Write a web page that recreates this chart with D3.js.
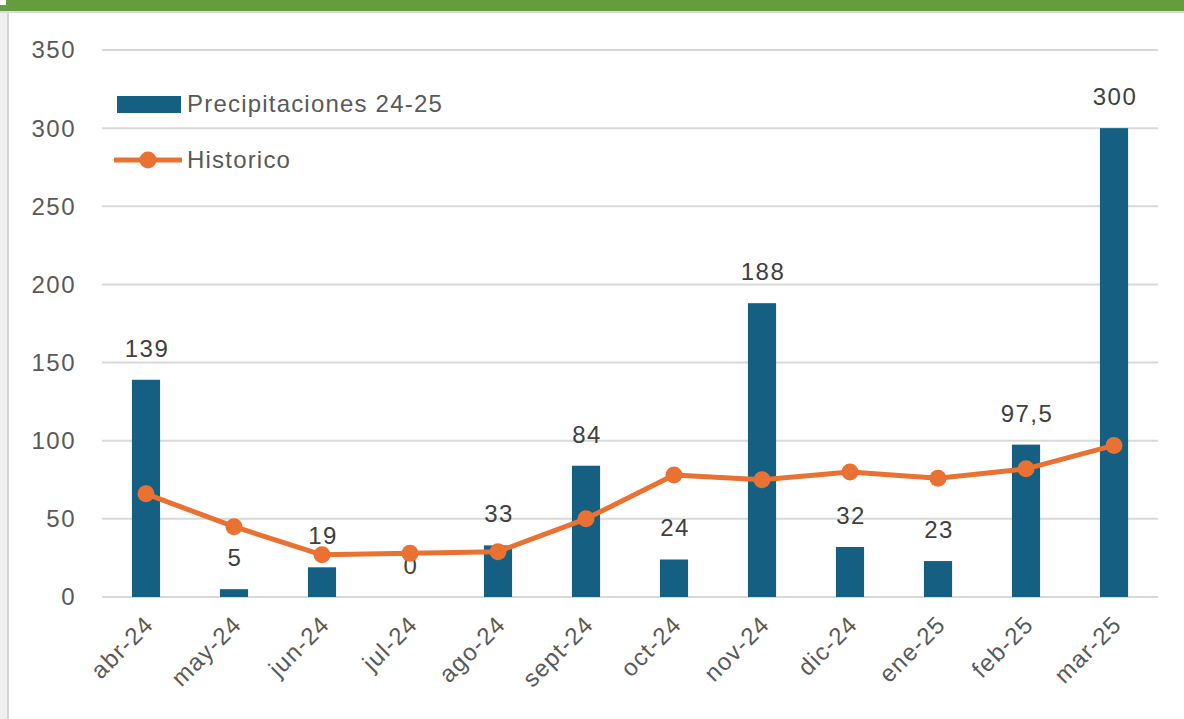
<!DOCTYPE html>
<html>
<head>
<meta charset="utf-8">
<script src="https://d3js.org/d3.v7.min.js"></script>
<style>
  body { margin: 0; background: #fff; }
  svg { display: block; font-family: "Liberation Sans", Arial, sans-serif; }
</style>
</head>
<body>
<div id="chart"></div>
<script>
// chart data
var months = ["abr-24", "may-24", "jun-24", "jul-24", "ago-24", "sept-24", "oct-24", "nov-24", "dic-24", "ene-25", "feb-25", "mar-25"]
var precip = [139, 5, 19, 0, 33, 84, 24, 188, 32, 23, 97.5, 300]
var historico = [66, 45, 27, 28, 29, 50, 78, 75, 80, 76, 82, 97]
var yTicks = [0, 50, 100, 150, 200, 250, 300, 350]

var width = 1184, height = 719
var margin = {left: 102, right: 26, top: 50, bottom: 122}

var svg = d3.select("#chart").append("svg")
  .attr("width", width)
  .attr("height", height)

// frame
svg.append("rect").attr("x", 0).attr("y", 0).attr("width", width).attr("height", height).attr("fill", "#fff")
svg.append("rect").attr("x", 0).attr("y", 0).attr("width", 8).attr("height", height).attr("fill", "#efefef")
svg.append("rect").attr("x", 7).attr("y", 11).attr("width", 2).attr("height", height).attr("fill", "#d4d4d4")
svg.append("rect").attr("x", 0).attr("y", 11).attr("width", width).attr("height", 2).attr("fill", "#dcdcdc")
svg.append("rect").attr("x", 0).attr("y", 0).attr("width", width).attr("height", 11).attr("fill", "#659c3e")
svg.append("rect").attr("x", 0).attr("y", 0).attr("width", 6).attr("height", 5).attr("fill", "#fff")

var x = d3.scaleBand()
  .domain(months)
  .range([margin.left, width - margin.right])
  .paddingInner(0.68)
  .paddingOuter(0.34)

var y = d3.scaleLinear()
  .domain([0, 350])
  .range([height - margin.bottom, margin.top])

// gridlines
svg.append("g")
  .selectAll("line")
  .data(yTicks)
  .enter()
  .append("line")
  .attr("x1", margin.left)
  .attr("x2", width - margin.right)
  .attr("y1", d => y(d))
  .attr("y2", d => y(d))
  .attr("stroke", "#d9d9d9")
  .attr("stroke-width", 2)

// y axis labels
svg.append("g")
  .selectAll("text")
  .data(yTicks)
  .enter()
  .append("text")
  .attr("x", 76)
  .attr("y", d => y(d))
  .attr("dy", "0.35em")
  .attr("text-anchor", "end")
  .attr("font-size", 24)
  .attr("letter-spacing", 1.5)
  .attr("fill", "#595959")
  .text(d => d)

// bars
svg.append("g")
  .selectAll("rect")
  .data(precip)
  .enter()
  .append("rect")
  .attr("x", (d, i) => x(months[i]))
  .attr("width", x.bandwidth())
  .attr("y", d => y(d))
  .attr("height", d => y(0) - y(d))
  .attr("fill", "#156082")

// bar value labels
svg.append("g")
  .selectAll("text")
  .data(precip)
  .enter()
  .append("text")
  .attr("x", (d, i) => x(months[i]) + x.bandwidth() / 2 + 1)
  .attr("y", d => y(d) - 23)
  .attr("text-anchor", "middle")
  .attr("font-size", 24)
  .attr("letter-spacing", 1.5)
  .attr("fill", "#404040")
  .text(d => String(d).replace(".", ","))

// historico line
var cx = (d, i) => x(months[i]) + x.bandwidth() / 2
var line = d3.line()
  .x(cx)
  .y(d => y(d))

svg.append("path")
  .datum(historico)
  .attr("d", line)
  .attr("fill", "none")
  .attr("stroke", "#e97132")
  .attr("stroke-width", 5)
  .attr("stroke-linejoin", "round")

svg.append("g")
  .selectAll("circle")
  .data(historico)
  .enter()
  .append("circle")
  .attr("cx", cx)
  .attr("cy", d => y(d))
  .attr("r", 8.5)
  .attr("fill", "#e97132")

// x axis labels
svg.append("g")
  .selectAll("text")
  .data(months)
  .enter()
  .append("text")
  .attr("text-anchor", "end")
  .attr("font-size", 24)
  .attr("letter-spacing", 1.2)
  .attr("fill", "#595959")
  .attr("transform", d => "translate(" + (x(d) + x.bandwidth() / 2 + 9) + "," + (y(0) + 29) + ") rotate(-45)")
  .text(d => d)

// legend
var legend = svg.append("g")
legend.append("rect")
  .attr("x", 117).attr("y", 96).attr("width", 64).attr("height", 17)
  .attr("fill", "#156082")
legend.append("text")
  .attr("x", 187).attr("y", 104).attr("dy", "0.35em")
  .attr("font-size", 24).attr("letter-spacing", 1.2).attr("fill", "#595959")
  .text("Precipitaciones 24-25")
legend.append("line")
  .attr("x1", 114).attr("x2", 182).attr("y1", 160).attr("y2", 160)
  .attr("stroke", "#e97132").attr("stroke-width", 5)
legend.append("circle")
  .attr("cx", 148).attr("cy", 160).attr("r", 8.5)
  .attr("fill", "#e97132")
legend.append("text")
  .attr("x", 187).attr("y", 160).attr("dy", "0.35em")
  .attr("font-size", 24).attr("letter-spacing", 1.2).attr("fill", "#595959")
  .text("Historico")
</script>
</body>
</html>
